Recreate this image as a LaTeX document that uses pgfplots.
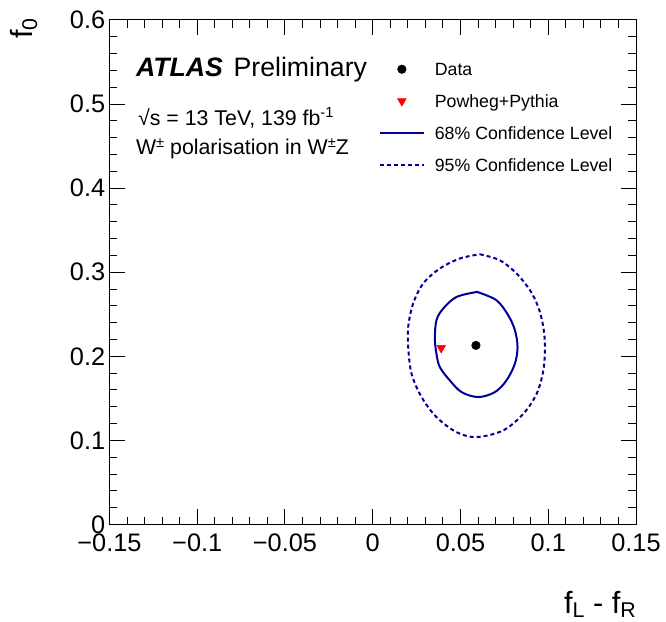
\documentclass[border=0pt]{standalone}
\usepackage{fontspec}
\setmainfont{Liberation Sans}
\usepackage{pgfplots}
\pgfplotsset{compat=1.18}
\definecolor{cblue}{RGB}{0,0,153}
\definecolor{cred}{RGB}{255,0,0}
\newcommand{\supx}[1]{\raisebox{5.5pt}{\fontsize{11}{12}\selectfont #1}}
\newcommand{\subx}[1]{\raisebox{-3.5pt}{\fontsize{16}{17}\selectfont #1}}
\pgfplotsset{
  legline/.style={legend image code/.code={\draw[##1] (0pt,0pt) -- (33pt,0pt);}},
  legmark/.style={legend image code/.code={\draw[##1] plot coordinates {(16.5pt,0pt)};}},
}
\begin{document}
\begin{tikzpicture}
\begin{axis}[
  width=394.9pt, height=378.4pt, scale only axis,
  xmin=-0.15, xmax=0.15, ymin=0, ymax=0.6,
  clip=false,
  xtick={-0.15,-0.1,-0.05,0,0.05,0.1,0.15},
  xticklabels={−0.15,−0.1,−0.05,0,0.05,0.1,0.15},
  ytick={0,0.1,0.2,0.3,0.4,0.5,0.6},
  yticklabels={0,0.1,0.2,0.3,0.4,0.5,0.6},
  minor x tick num=4, minor y tick num=4,
  tick align=inside, xtick pos=both, ytick pos=both,
  xticklabel pos=lower, yticklabel pos=left,
  major tick length=11.5pt, minor tick length=5.75pt,
  axis line style={line width=0.75pt},
  every tick/.style={black, line width=0.75pt},
  every minor tick/.style={black, line width=0.75pt},
  tick label style={font=\fontsize{19}{20}\selectfont},
  xticklabel style={anchor=north, inner sep=0pt, yshift=-6.75pt},
  yticklabel style={anchor=east, inner sep=0pt, xshift=-3pt},
  legend style={at={(axis cs:0.0035,0.549)}, anchor=north west, draw=none, fill=none,
    inner sep=0pt, outer sep=0pt, row sep=14.4pt, column sep=7.5pt,
    font=\fontsize{13.3}{14}\selectfont,
    nodes={inner sep=0pt, text height=9.5pt, text depth=0pt}},
  legend cell align=left,
]
% 95% CL contour
\addplot[forget plot, cblue, line width=1.5pt, dash pattern=on 3pt off 2.25pt, smooth, tension=0.55] coordinates {
(0.0610,0.3214) (0.0724,0.3143) (0.0820,0.2984) (0.0896,0.2786) (0.0943,0.2587)
(0.0972,0.2349) (0.0981,0.2111) (0.0972,0.1833) (0.0934,0.1556) (0.0858,0.1317)
(0.0743,0.1119) (0.0591,0.1040) (0.0477,0.1099) (0.0363,0.1278) (0.0278,0.1516)
(0.0221,0.1794) (0.0202,0.2111) (0.0202,0.2349) (0.0230,0.2627) (0.0287,0.2865)
(0.0382,0.3044) (0.0496,0.3163) (0.0610,0.3214)
};
% 68% CL contour
\addplot[forget plot, cblue, line width=1.5pt, smooth, tension=0.55] coordinates {
(0.0595,0.2766) (0.0705,0.2667) (0.0772,0.2488) (0.0810,0.2310) (0.0825,0.2111)
(0.0810,0.1913) (0.0762,0.1714) (0.0696,0.1575) (0.0601,0.1516) (0.0506,0.1575)
(0.0439,0.1714) (0.0382,0.1873) (0.0363,0.2032) (0.0354,0.2210) (0.0363,0.2429)
(0.0401,0.2567) (0.0477,0.2706) (0.0595,0.2766)
};
% Powheg+Pythia
\addplot[forget plot, only marks, mark=triangle*, cred, mark size=3.8pt, mark options={rotate=180}] coordinates {(0.039,0.210)};
% Data
\addplot[forget plot, only marks, mark=*, black, mark size=3.2pt] coordinates {(0.0588,0.213)};

\addlegendimage{legmark, mark=*, black, mark size=3.2pt}
\addlegendentry{Data}
\addlegendimage{legmark, mark=triangle*, cred, mark size=3.8pt, mark options={rotate=180}}
\addlegendentry{Powheg+Pythia}
\addlegendimage{legline, cblue, line width=1.5pt}
\addlegendentry{68\% Confidence Level}
\addlegendimage{legline, cblue, line width=1.5pt, dash pattern=on 3pt off 2.25pt}
\addlegendentry{95\% Confidence Level}

\node[anchor=base west, inner sep=0pt, font=\fontsize{20}{22}\selectfont] at (axis cs:-0.135,0.533) {\textbf{\textit{ATLAS}}\hspace{0.4em}Preliminary};
\node[anchor=base west, inner sep=0pt, font=\fontsize{16}{18}\selectfont] at (axis cs:-0.1338,0.475) {√s = 13 TeV, 139 fb\supx{-1}};
\node[anchor=base west, inner sep=0pt, font=\fontsize{16}{18}\selectfont] at (axis cs:-0.135,0.4395) {W\supx{±} polarisation in W\supx{±}Z};

\coordinate (ll) at (rel axis cs:0,0);
\coordinate (ur) at (rel axis cs:1,1);
\coordinate (tl) at (rel axis cs:0,1);
\coordinate (br) at (rel axis cs:1,0);
\end{axis}
\node[anchor=base east, inner sep=0pt, font=\fontsize{23}{25}\selectfont] at ([yshift=-66.6pt]br) {f\subx{L} - f\subx{R}};
\node[anchor=base east, rotate=90, inner sep=0pt, font=\fontsize{23}{25}\selectfont] at ([xshift=-57.75pt,yshift=1.5pt]tl) {f\subx{0}};
\pgfresetboundingbox
\path ([xshift=-82.1pt,yshift=-73.1pt]ll) rectangle ([xshift=22.5pt,yshift=15pt]ur);
\end{tikzpicture}
\end{document}
